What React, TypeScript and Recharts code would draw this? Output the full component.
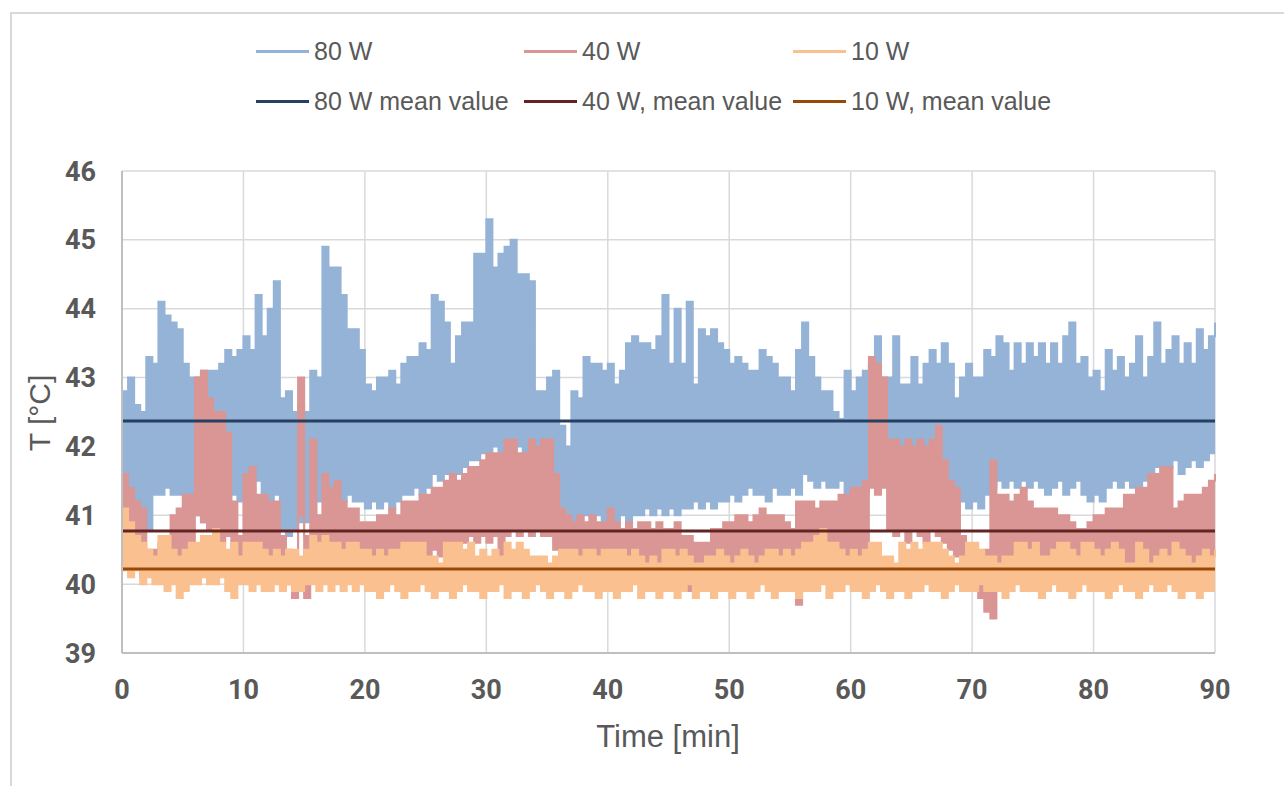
import React from 'react';
import { ComposedChart, Area, XAxis, YAxis, CartesianGrid, ReferenceLine } from 'recharts';

// time step of the readings (min): each reading = [trough, peak] of the signal in that step
const STEP = 0.5;
const xTicks = [0, 10, 20, 30, 40, 50, 60, 70, 80, 90];
const yTicks = [39, 40, 41, 42, 43, 44, 45, 46];

// 80 W — peaks and troughs, t = 0, 0.5, ... 90
const peak80 = [
  42.8, 43.0, 42.6, 42.5, 43.3, 43.2, 44.1, 43.9, 43.8, 43.7,
  43.2, 43.0, 43.0, 43.1, 43.1, 43.1, 43.2, 43.4, 43.3, 43.4,
  43.6, 43.4, 44.2, 43.6, 44.0, 44.4, 42.7, 42.8, 42.5, 42.6,
  42.5, 43.1, 43.0, 44.9, 44.6, 44.6, 44.2, 43.7, 43.7, 43.4,
  42.9, 42.8, 43.0, 43.0, 43.1, 42.9, 43.2, 43.3, 43.3, 43.5,
  43.4, 44.2, 44.1, 43.8, 43.2, 43.6, 43.8, 43.8, 44.8, 44.8,
  45.3, 44.6, 44.8, 44.9, 45.0, 44.5, 44.5, 44.4, 42.8, 42.8,
  43.0, 43.1, 42.3, 42.0, 42.8, 42.7, 43.3, 43.2, 43.2, 43.1,
  43.2, 42.9, 43.1, 43.5, 43.6, 43.5, 43.5, 43.4, 43.6, 44.2,
  43.2, 44.0, 43.2, 44.1, 42.9, 43.7, 43.6, 43.7, 43.5, 43.4,
  43.2, 43.3, 43.2, 43.1, 43.1, 43.4, 43.3, 43.2, 43.0, 43.0,
  42.8, 43.4, 43.8, 43.3, 43.0, 42.8, 42.8, 42.5, 42.4, 43.1,
  42.8, 43.0, 43.1, 43.2, 43.6, 43.0, 43.0, 43.6, 42.9, 42.9,
  43.3, 42.9, 43.2, 43.4, 43.2, 43.5, 43.2, 42.7, 43.0, 43.2,
  43.0, 43.0, 43.4, 43.3, 43.6, 43.5, 43.1, 43.5, 43.2, 43.5,
  43.3, 43.5, 43.2, 43.5, 43.2, 43.6, 43.8, 43.2, 43.3, 43.0,
  43.1, 42.8, 43.4, 43.1, 43.3, 43.0, 43.2, 43.6, 43.0, 43.3,
  43.8, 43.2, 43.4, 43.6, 43.2, 43.5, 43.2, 43.7, 43.4, 43.6,
  43.8,
];
const trough80 = [
  41.2, 41.0, 40.8, 40.9, 40.8, 41.3, 41.3, 41.4, 41.3, 41.3,
  41.3, 41.3, 41.0, 40.9, 40.9, 40.9, 41.0, 41.0, 41.3, 41.2,
  41.4, 41.3, 41.5, 41.3, 41.2, 41.3, 40.8, 40.7, 40.8, 40.9,
  40.9, 41.0, 41.2, 41.3, 41.2, 41.4, 41.2, 41.3, 41.2, 41.2,
  41.1, 41.2, 41.1, 41.2, 41.1, 41.2, 41.3, 41.3, 41.4, 41.3,
  41.4, 41.6, 41.5, 41.6, 41.5, 41.6, 41.7, 41.8, 41.8, 41.9,
  41.9, 42.0, 41.9, 42.0, 41.9, 42.0, 41.9, 42.0, 41.9, 41.8,
  41.8, 41.3, 41.0, 40.9, 40.9, 40.9, 41.0, 40.9, 41.0, 40.9,
  41.0, 40.9, 41.0, 40.9, 41.0, 41.0, 41.1, 41.0, 41.1, 41.0,
  41.1, 41.0, 41.1, 41.1, 41.2, 41.1, 41.2, 41.1, 41.2, 41.2,
  41.3, 41.2, 41.3, 41.4, 41.3, 41.3, 41.2, 41.4, 41.3, 41.3,
  41.4, 41.3, 41.6, 41.5, 41.4, 41.5, 41.4, 41.4, 41.5, 41.3,
  41.3, 41.4, 41.3, 41.5, 41.4, 41.5, 41.6, 41.7, 41.6, 41.7,
  41.6, 41.7, 41.6, 41.7, 41.6, 41.7, 41.5, 41.3, 41.2, 41.1,
  41.2, 41.1, 41.3, 41.4, 41.5, 41.4, 41.5, 41.4, 41.5, 41.4,
  41.5, 41.4, 41.3, 41.4, 41.5, 41.3, 41.4, 41.5, 41.3, 41.2,
  41.3, 41.2, 41.4, 41.5, 41.4, 41.5, 41.4, 41.3, 41.5, 41.6,
  41.7, 41.6, 41.7, 41.8, 41.6, 41.7, 41.8, 41.7, 41.8, 41.9,
  41.9,
];

// 40 W
const peak40 = [
  41.6, 41.4, 41.2, 41.1, 40.5, 40.5, 40.6, 40.6, 41.0, 41.1,
  41.3, 41.3, 43.0, 43.1, 42.7, 42.5, 42.5, 42.2, 41.2, 40.7,
  41.6, 41.7, 41.3, 41.3, 41.2, 41.2, 40.7, 40.5, 40.4, 43.0,
  40.7, 42.1, 41.0, 41.6, 41.4, 41.5, 41.2, 41.1, 41.1, 40.9,
  40.9, 40.9, 41.0, 41.0, 41.1, 41.0, 41.2, 41.2, 41.2, 41.3,
  41.3, 41.4, 41.4, 41.5, 41.6, 41.5, 41.6, 41.7, 41.7, 41.8,
  41.9, 41.9, 41.9, 42.1, 42.1, 41.9, 41.9, 42.1, 42.0, 42.1,
  42.1, 41.6, 41.1, 41.0, 40.9, 41.0, 40.9, 41.0, 40.9, 40.9,
  41.1, 40.9, 40.8, 40.9, 40.8, 40.9, 40.9, 40.8, 40.9, 40.8,
  40.8, 40.9, 40.7, 40.7, 40.6, 40.6, 40.6, 40.8, 40.8, 40.9,
  40.9, 41.0, 41.0, 40.9, 41.0, 41.1, 41.0, 41.0, 41.0, 40.9,
  40.8, 41.2, 41.2, 41.2, 41.1, 41.2, 41.2, 41.2, 41.3, 41.3,
  41.4, 41.4, 41.5, 43.3, 43.2, 43.0, 42.1, 42.1, 42.0, 42.1,
  42.0, 42.1, 42.0, 42.1, 42.3, 41.8, 41.5, 41.4, 40.7, 40.5,
  40.5, 40.4, 40.5, 41.8, 41.3, 41.3, 41.2, 41.3, 41.4, 41.2,
  41.1, 41.1, 41.1, 41.1, 41.0, 41.0, 40.9, 40.8, 40.8, 40.9,
  41.0, 41.0, 41.1, 41.1, 41.1, 41.3, 41.3, 41.4, 41.4, 41.6,
  41.6, 41.7, 41.7, 41.1, 41.2, 41.3, 41.3, 41.3, 41.4, 41.5,
  41.6,
];
const trough40 = [
  40.3, 40.4, 40.3, 40.1, 40.3, 40.3, 40.3, 40.3, 40.3, 40.3,
  40.4, 40.3, 41.0, 40.9, 40.8, 40.7, 40.6, 40.7, 40.4, 40.3,
  40.3, 40.4, 40.3, 40.4, 40.3, 40.3, 40.2, 40.0, 39.8, 41.0,
  39.8, 40.3, 40.3, 40.4, 40.3, 40.2, 40.3, 40.3, 40.2, 40.3,
  40.3, 40.2, 40.3, 40.3, 40.2, 40.3, 40.3, 40.4, 40.3, 40.4,
  40.4, 40.5, 40.4, 40.5, 40.6, 40.5, 40.6, 40.7, 40.6, 40.7,
  40.6, 40.7, 40.4, 40.7, 40.8, 40.7, 40.8, 40.7, 40.8, 40.7,
  40.7, 40.5, 40.4, 40.3, 40.4, 40.3, 40.4, 40.3, 40.4, 40.3,
  40.3, 40.2, 40.3, 40.2, 40.3, 40.2, 40.3, 40.2, 40.3, 40.2,
  40.3, 40.2, 40.3, 39.9, 40.3, 40.2, 40.3, 39.8, 40.2, 40.3,
  40.2, 40.3, 40.2, 40.3, 40.2, 40.3, 40.2, 40.3, 40.2, 40.3,
  40.1, 39.7, 40.2, 40.3, 40.2, 40.3, 40.2, 40.3, 40.3, 40.4,
  40.4, 40.4, 40.5, 41.4, 41.3, 41.4, 40.8, 40.7, 40.8, 40.6,
  40.8, 40.7, 40.6, 40.8, 40.7, 40.6, 40.5, 40.4, 40.3, 40.2,
  40.0, 39.8, 39.6, 39.5, 40.0, 40.2, 40.1, 40.2, 40.1, 40.2,
  40.2, 40.1, 40.2, 40.1, 40.2, 40.1, 40.2, 40.2, 40.1, 40.2,
  40.2, 40.1, 40.2, 40.2, 40.1, 40.2, 40.2, 40.1, 40.2, 40.2,
  40.2, 40.2, 40.1, 40.2, 40.2, 40.1, 40.2, 40.2, 40.1, 40.2,
  40.2,
];

// 10 W
const peak10 = [
  41.1, 40.9, 40.7, 40.6, 40.5, 40.4, 40.7, 40.7, 40.5, 40.4,
  40.5, 40.6, 40.6, 40.7, 40.7, 40.8, 40.6, 40.5, 40.6, 40.4,
  40.6, 40.6, 40.6, 40.5, 40.4, 40.5, 40.4, 40.5, 40.5, 40.4,
  40.5, 40.7, 40.6, 40.7, 40.6, 40.6, 40.5, 40.6, 40.6, 40.5,
  40.5, 40.4, 40.5, 40.4, 40.5, 40.5, 40.6, 40.6, 40.6, 40.6,
  40.4, 40.4, 40.3, 40.6, 40.6, 40.6, 40.5, 40.6, 40.4, 40.5,
  40.4, 40.5, 40.4, 40.6, 40.5, 40.6, 40.5, 40.4, 40.4, 40.4,
  40.3, 40.4, 40.5, 40.5, 40.5, 40.4, 40.5, 40.5, 40.4, 40.5,
  40.5, 40.5, 40.5, 40.4, 40.5, 40.4, 40.3, 40.4, 40.3, 40.5,
  40.5, 40.4, 40.5, 40.4, 40.3, 40.3, 40.4, 40.4, 40.5, 40.4,
  40.3, 40.4, 40.5, 40.4, 40.3, 40.4, 40.5, 40.5, 40.4, 40.5,
  40.4, 40.5, 40.6, 40.6, 40.7, 40.8, 40.6, 40.6, 40.5, 40.4,
  40.5, 40.4, 40.5, 40.6, 40.6, 40.4, 40.4, 40.3, 40.6, 40.5,
  40.6, 40.5, 40.6, 40.6, 40.6, 40.5, 40.4, 40.3, 40.4, 40.6,
  40.6, 40.5, 40.4, 40.4, 40.3, 40.4, 40.4, 40.6, 40.6, 40.5,
  40.6, 40.4, 40.4, 40.5, 40.6, 40.6, 40.5, 40.4, 40.6, 40.6,
  40.5, 40.4, 40.5, 40.6, 40.5, 40.3, 40.3, 40.6, 40.5, 40.3,
  40.4, 40.5, 40.4, 40.6, 40.5, 40.4, 40.3, 40.4, 40.5, 40.4,
  40.5,
];
const trough10 = [
  40.2, 40.1, 40.2, 40.0, 40.1, 40.0, 40.0, 39.9, 40.0, 39.8,
  39.9, 40.0, 40.0, 40.1, 40.0, 40.0, 40.1, 39.9, 39.8, 40.0,
  40.0, 39.9, 40.0, 39.9, 39.9, 40.0, 39.9, 40.0, 39.9, 39.9,
  40.0, 40.0, 39.9, 40.0, 39.9, 40.0, 39.9, 40.0, 39.9, 40.0,
  39.9, 39.9, 39.8, 39.9, 40.0, 39.9, 39.8, 39.9, 39.9, 40.0,
  39.9, 39.8, 39.9, 39.9, 39.8, 39.9, 40.0, 39.9, 39.9, 39.8,
  39.9, 39.9, 40.0, 39.8, 39.9, 39.9, 39.8, 39.9, 40.0, 39.9,
  39.8, 39.9, 39.9, 39.8, 39.9, 40.0, 39.9, 39.9, 39.8, 39.9,
  39.9, 39.8, 39.9, 39.9, 40.0, 39.8, 39.9, 39.9, 39.8, 39.9,
  39.9, 39.8, 39.9, 40.0, 39.8, 39.9, 39.9, 39.8, 39.9, 39.9,
  39.8, 39.9, 39.9, 39.8, 39.9, 40.0, 39.9, 39.8, 39.9, 39.9,
  39.9, 39.8, 39.9, 39.9, 39.9, 40.0, 39.8, 39.9, 39.9, 40.0,
  39.9, 39.9, 39.8, 39.9, 40.0, 39.9, 39.8, 39.9, 39.9, 39.8,
  39.9, 39.9, 40.0, 39.9, 39.9, 39.8, 39.9, 40.0, 39.9, 39.9,
  39.9, 40.0, 39.9, 39.9, 39.9, 39.8, 39.9, 40.0, 39.9, 39.9,
  39.9, 39.8, 39.9, 40.0, 39.9, 39.9, 39.8, 39.9, 40.0, 39.9,
  39.9, 39.9, 39.8, 39.9, 40.0, 39.9, 39.9, 39.8, 39.9, 40.0,
  39.9, 39.9, 40.0, 39.9, 39.8, 39.9, 39.9, 39.8, 39.9, 39.9,
  39.9,
];

// mean values
const mean80 = 42.37;
const mean40 = 40.77;
const mean10 = 40.22;

const seriesNames = ['80 W', '40 W', '10 W'];
const meanNames = ['80 W mean value', '40 W, mean value', '10 W, mean value'];
const seriesColors = ['#95B3D7', '#D99694', '#FAC090'];
const meanColors = ['#254061', '#632523', '#984807'];

const data = peak80.map((_, k) => ({
  t: k * STEP,
  w80: [trough80[k], peak80[k]],
  w40: [trough40[k], peak40[k]],
  w10: [trough10[k], peak10[k]],
}));

const TXT = '#595959';
const FONT = '"Liberation Sans", Arial, sans-serif';
const TICKFONT = 'Roboto, "Liberation Sans", sans-serif';

const legendCols = [256, 524, 793];
const legendRows = [51, 101];

export default function App() {
  return (
    <div style={{ position: 'absolute', left: 0, top: 0, width: 1284, height: 786, background: '#fff', overflow: 'hidden', fontFamily: FONT }}>
      <div style={{ position: 'absolute', left: 10, top: 12, width: 1400, height: 900, borderLeft: '2px solid #d9d9d9', borderTop: '2px solid #d9d9d9' }} />
      <ComposedChart
        width={1284}
        height={786}
        data={data}
        margin={{ top: 171, right: 69, bottom: 103, left: 62 }}
        style={{ position: 'absolute', left: 0, top: 0 }}
      >
        <CartesianGrid stroke="#d9d9d9" strokeWidth={1.5} horizontalValues={yTicks} verticalValues={xTicks} />
        <XAxis
          dataKey="t"
          type="number"
          domain={[0, 90]}
          ticks={xTicks}
          height={30}
          tickSize={0}
          tickMargin={27}
          axisLine={{ stroke: '#bfbfbf', strokeWidth: 2 }}
          tick={{ fill: TXT, fontSize: 27, fontWeight: 700, fontFamily: TICKFONT }}
          interval={0}
        />
        <YAxis
          type="number"
          domain={[39, 46]}
          ticks={yTicks}
          width={60}
          tickSize={0}
          tickMargin={26}
          axisLine={{ stroke: '#bfbfbf', strokeWidth: 2 }}
          tick={{ fill: TXT, fontSize: 27, fontWeight: 700, fontFamily: TICKFONT }}
          interval={0}
          allowDataOverflow
        />
        <Area type="stepAfter" dataKey="w80" stroke={seriesColors[0]} strokeWidth={2} fill={seriesColors[0]} fillOpacity={1} dot={false} activeDot={false} isAnimationActive={false} />
        <Area type="stepAfter" dataKey="w40" stroke={seriesColors[1]} strokeWidth={2} fill={seriesColors[1]} fillOpacity={1} dot={false} activeDot={false} isAnimationActive={false} />
        <Area type="stepAfter" dataKey="w10" stroke={seriesColors[2]} strokeWidth={2} fill={seriesColors[2]} fillOpacity={1} dot={false} activeDot={false} isAnimationActive={false} />
        <ReferenceLine y={mean80} stroke={meanColors[0]} strokeWidth={3} />
        <ReferenceLine y={mean40} stroke={meanColors[1]} strokeWidth={3} />
        <ReferenceLine y={mean10} stroke={meanColors[2]} strokeWidth={3} />
      </ComposedChart>

      {legendRows.map((rowY, r) =>
        legendCols.map((colX, c) => {
          const label = r === 0 ? seriesNames[c] : meanNames[c];
          const color = r === 0 ? seriesColors[c] : meanColors[c];
          return (
            <div key={`${r}-${c}`} style={{ position: 'absolute', left: colX, top: rowY - 15, height: 30, display: 'flex', alignItems: 'center', whiteSpace: 'nowrap' }}>
              <div style={{ width: 53, height: 3, background: color, marginRight: 5 }} />
              <span style={{ fontSize: 25, color: TXT, lineHeight: '30px' }}>{label}</span>
            </div>
          );
        })
      )}

      <div style={{ position: 'absolute', left: 40, top: 413, transform: 'translate(-50%, -50%) rotate(-90deg)', fontSize: 30, color: TXT, whiteSpace: 'nowrap' }}>T [°C]</div>
      <div style={{ position: 'absolute', left: 668, top: 737, transform: 'translate(-50%, -50%)', fontSize: 31, color: TXT, whiteSpace: 'nowrap' }}>Time [min]</div>
    </div>
  );
}
